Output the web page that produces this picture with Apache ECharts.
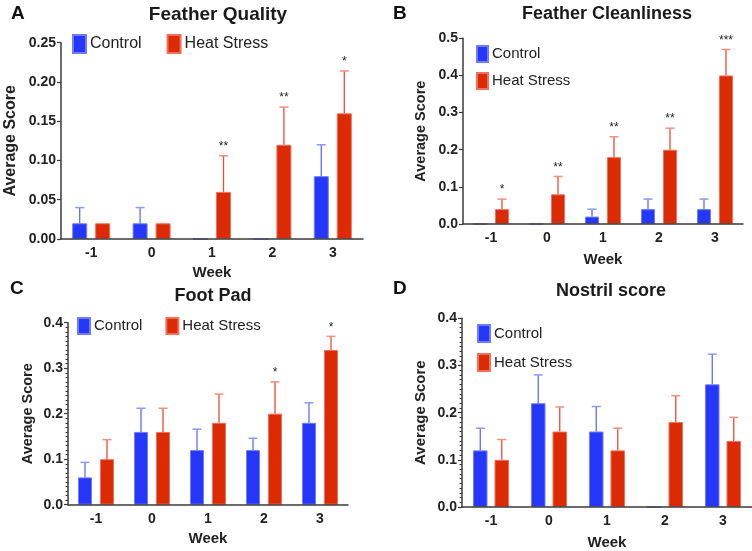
<!DOCTYPE html>
<html>
<head>
<meta charset="utf-8">
<script src="https://cdn.jsdelivr.net/npm/echarts@6/dist/echarts.min.js"></script>
<style>
html,body{margin:0;padding:0;background:#fff;}
#chart{width:752px;height:551px;}
</style>
</head>
<body>
<div id="chart"></div>
<script>
// ---------- data ----------
const weeks = ['-1', '0', '1', '2', '3'];

const ctrlA = [0.02, 0.02, 0, 0, 0.08];
const ctrlErrA = [0.02, 0.02, 0, 0, 0.04];
const heatA = [0.02, 0.02, 0.06, 0.12, 0.16];
const heatErrA = [0, 0, 0.046, 0.048, 0.054];
const starsA = ['', '', '**', '**', '*'];

const ctrlB = [0, 0, 0.02, 0.04, 0.04];
const ctrlErrB = [0, 0, 0.02, 0.027, 0.027];
const heatB = [0.04, 0.08, 0.18, 0.2, 0.4];
const heatErrB = [0.027, 0.048, 0.055, 0.058, 0.07];
const starsB = ['*', '**', '**', '**', '***'];

const ctrlC = [0.06, 0.16, 0.12, 0.12, 0.18];
const ctrlErrC = [0.033, 0.052, 0.046, 0.026, 0.044];
const heatC = [0.1, 0.16, 0.18, 0.2, 0.34];
const heatErrC = [0.043, 0.052, 0.063, 0.07, 0.03];
const starsC = ['', '', '', '*', '*'];

const ctrlD = [0.12, 0.22, 0.16, 0, 0.26];
const ctrlErrD = [0.047, 0.06, 0.053, 0, 0.064];
const heatD = [0.1, 0.16, 0.12, 0.18, 0.14];
const heatErrD = [0.043, 0.052, 0.047, 0.056, 0.05];
const starsD = ['', '', '', '', ''];

const titles = ['Feather Quality', 'Feather Cleanliness', 'Foot Pad', 'Nostril score'];
const letters = ['A', 'B', 'C', 'D'];
const legendNames = ['Control', 'Heat Stress'];
const yMax = [0.25, 0.5, 0.4, 0.4];
const yStep = [0.05, 0.1, 0.1, 0.1];
const yDecimals = [2, 1, 1, 1];

// ---------- styling / layout ----------
const FONT = 'Liberation Sans, Arial, Helvetica, sans-serif';
const BLUE = '#2437fb', BLUE_B = '#6f7cff', BLUE_W = '#5a6bff', BLUE_C = '#8d99ff';
const RED = '#dc2a04', RED_B = '#f0705a', RED_W = '#f04a32', RED_C = '#f2907e';
const AX = '#3a3a3a';

const panels = [
  {ctrl: ctrlA, ce: ctrlErrA, heat: heatA, he: heatErrA, stars: starsA,
   grid: {left: 61, top: 42.7, width: 302, height: 196.3},
   barW: 15, gapPx: 8, yNameSize: 16, yNameGap: 42, xNameGap: 26, minor: false,
   legend: {left: 72, top: 34, orient: 'horizontal', itemWidth: 13, itemHeight: 18, itemGap: 25, fontSize: 16},
   title: {x: 213, y: 0, size: 19}, letter: {x: 6, y: -1}},
  {ctrl: ctrlB, ce: ctrlErrB, heat: heatB, he: heatErrB, stars: starsB,
   grid: {left: 463, top: 38.3, width: 280, height: 185.7},
   barW: 14, gapPx: 8, yNameSize: 14.5, yNameGap: 35, xNameGap: 28, minor: false,
   legend: {left: 476, top: 45, orient: 'vertical', itemWidth: 11, itemHeight: 16, itemGap: 9, fontSize: 15},
   title: {x: 602, y: 0, size: 18}, letter: {x: 388, y: -1}},
  {ctrl: ctrlC, ce: ctrlErrC, heat: heatC, he: heatErrC, stars: starsC,
   grid: {left: 68, top: 322.7, width: 280, height: 182},
   barW: 14, gapPx: 8, yNameSize: 14.5, yNameGap: 33, xNameGap: 27, minor: true,
   legend: {left: 77, top: 317, orient: 'horizontal', itemWidth: 12, itemHeight: 16, itemGap: 23, fontSize: 15},
   title: {x: 208, y: 282, size: 18}, letter: {x: 5, y: 274}},
  {ctrl: ctrlD, ce: ctrlErrD, heat: heatD, he: heatErrD, stars: starsD,
   grid: {left: 462, top: 318.3, width: 290, height: 189.4},
   barW: 14.5, gapPx: 7, yNameSize: 15, yNameGap: 34, xNameGap: 28, minor: true,
   legend: {left: 477, top: 324, orient: 'vertical', itemWidth: 12, itemHeight: 17, itemGap: 10, fontSize: 15},
   title: {x: 606, y: 277, size: 18}, letter: {x: 388, y: 274}}
];

function errRenderer(offset, wColor, cColor, stars) {
  return function (params, api) {
    const i = api.value(0), m = api.value(1), e = api.value(2);
    const children = [];
    const base = api.coord([i, m]);
    const top = api.coord([i, m + (e || 0)]);
    const x = base[0] + offset;
    if (e) {
      children.push({type: 'line', shape: {x1: x, y1: base[1], x2: x, y2: top[1]},
        style: {stroke: wColor, lineWidth: 1.3}});
      children.push({type: 'line', shape: {x1: x - 4.5, y1: top[1], x2: x + 4.5, y2: top[1]},
        style: {stroke: cColor, lineWidth: 1.5}});
    }
    const s = stars ? stars[params.dataIndex] : '';
    if (s) {
      children.push({type: 'text', x: x, y: top[1] - 9,
        style: {text: s, fill: '#222', font: '12px ' + FONT, align: 'center', verticalAlign: 'middle'}});
    }
    return {type: 'group', children: children};
  };
}

const option = {
  animation: false,
  backgroundColor: '#fff',
  title: [], legend: [], grid: [], xAxis: [], yAxis: [], series: []
};

panels.forEach((p, k) => {
  option.grid.push(Object.assign({containLabel: false}, p.grid));
  option.title.push({text: titles[k], left: p.title.x, top: p.title.y, textAlign: 'center',
    textStyle: {fontFamily: FONT, fontWeight: 'bold', fontSize: p.title.size, color: '#1a1a1a'}});
  option.title.push({text: letters[k], left: p.letter.x, top: p.letter.y,
    textStyle: {fontFamily: FONT, fontWeight: 'bold', fontSize: 19, color: '#111'}});
  option.legend.push({
    data: legendNames, left: p.legend.left, top: p.legend.top, orient: p.legend.orient,
    icon: 'rect', itemWidth: p.legend.itemWidth, itemHeight: p.legend.itemHeight,
    itemGap: p.legend.itemGap, padding: 0,
    textStyle: {fontFamily: FONT, fontSize: p.legend.fontSize, color: '#222', padding: [0, 0, 0, -1]}
  });
  option.xAxis.push({
    type: 'category', gridIndex: k, data: weeks, boundaryGap: true, z: 5,
    name: 'Week', nameLocation: 'middle', nameGap: p.xNameGap,
    nameTextStyle: {fontFamily: FONT, fontWeight: 'bold', fontSize: 15, color: '#222'},
    axisLine: {lineStyle: {color: AX, width: 1.5}},
    axisTick: {alignWithLabel: true, length: 4, lineStyle: {color: AX, width: 1.2}},
    axisLabel: {fontFamily: FONT, fontWeight: 'bold', fontSize: 14, color: '#222', margin: 7},
    splitLine: {show: false}
  });
  option.yAxis.push({
    type: 'value', gridIndex: k, min: 0, max: yMax[k], interval: yStep[k], z: 5,
    name: 'Average Score', nameLocation: 'middle', nameGap: p.yNameGap,
    nameTextStyle: {fontFamily: FONT, fontWeight: 'bold', fontSize: p.yNameSize, color: '#222'},
    axisLine: {show: true, lineStyle: {color: AX, width: 1.5}},
    axisTick: {show: true, length: 4, lineStyle: {color: AX, width: 1.2}},
    minorTick: {show: p.minor, splitNumber: 10, length: 2.5, lineStyle: {color: AX, width: 1}},
    axisLabel: {fontFamily: FONT, fontWeight: 'bold', fontSize: 14, color: '#222', margin: 5,
      formatter: v => v.toFixed(yDecimals[k])},
    splitLine: {show: false}
  });
  const gapPct = (p.gapPx / p.barW * 100) + '%';
  const off = (p.barW + p.gapPx) / 2;
  option.series.push({
    name: 'Control', type: 'bar', xAxisIndex: k, yAxisIndex: k, data: p.ctrl,
    barWidth: p.barW, barGap: gapPct,
    itemStyle: {color: BLUE, borderColor: BLUE_B, borderWidth: 1}
  });
  option.series.push({
    name: 'Heat Stress', type: 'bar', xAxisIndex: k, yAxisIndex: k, data: p.heat,
    barWidth: p.barW, barGap: gapPct,
    itemStyle: {color: RED, borderColor: RED_B, borderWidth: 1}
  });
  option.series.push({
    name: 'ctrlErr' + k, type: 'custom', xAxisIndex: k, yAxisIndex: k,
    data: p.ctrl.map((v, i) => [i, v, p.ce[i]]),
    encode: {x: 0, y: 1},
    renderItem: errRenderer(-off, BLUE_W, BLUE_C, null), z: 3
  });
  option.series.push({
    name: 'heatErr' + k, type: 'custom', xAxisIndex: k, yAxisIndex: k,
    data: p.heat.map((v, i) => [i, v, p.he[i]]),
    encode: {x: 0, y: 1},
    renderItem: errRenderer(off, RED_W, RED_C, p.stars), z: 3
  });
});

const chart = echarts.init(document.getElementById('chart'), null, {renderer: 'canvas'});
chart.setOption(option);
</script>
</body>
</html>
